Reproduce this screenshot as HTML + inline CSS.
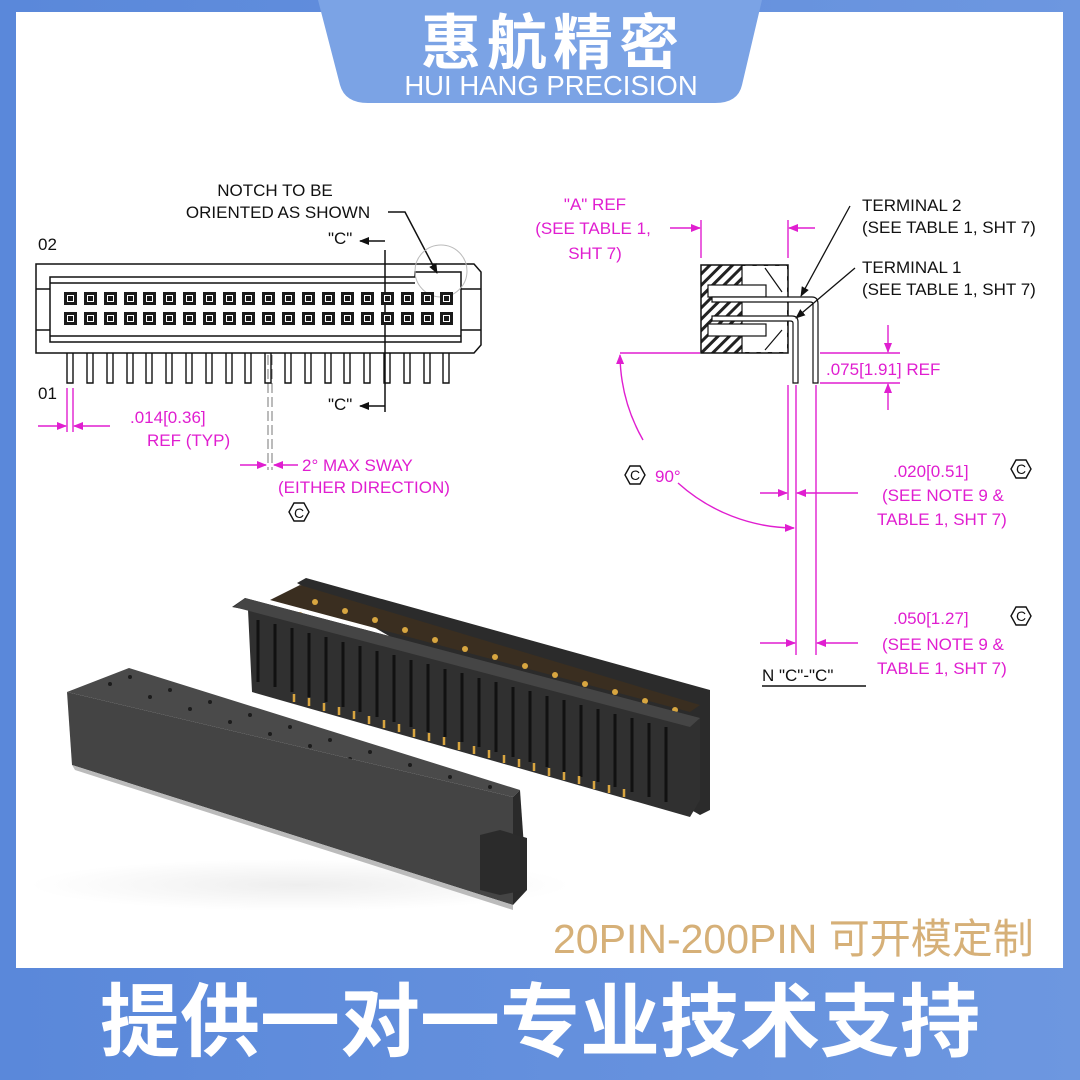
<!DOCTYPE html>
<html><head><meta charset="utf-8"><style>
html,body{margin:0;padding:0;background:#6b95de;}
svg{display:block}
text{font-family:"Liberation Sans","Noto Sans CJK SC",sans-serif}
</style></head><body>
<svg width="1080" height="1080" viewBox="0 0 1080 1080" xmlns="http://www.w3.org/2000/svg">
<defs>
<linearGradient id="bb" x1="0" y1="0" x2="1" y2="0"><stop offset="0" stop-color="#5a88da"/><stop offset="1" stop-color="#6d97e0"/></linearGradient>
<pattern id="hatch" width="8" height="8" patternUnits="userSpaceOnUse" patternTransform="rotate(45)"><rect width="8" height="8" fill="#fff"/><rect width="3" height="8" fill="#222"/></pattern>
<marker id="m" markerWidth="10" markerHeight="8" refX="9" refY="4" orient="auto" markerUnits="userSpaceOnUse"><path d="M0,0 L10,4 L0,8z" fill="#e01ed0"/></marker>
<marker id="k" markerWidth="10" markerHeight="8" refX="9" refY="4" orient="auto" markerUnits="userSpaceOnUse"><path d="M0,0 L10,4 L0,8z" fill="#111"/></marker>
<radialGradient id="sh" cx="0.5" cy="0.5" r="0.5"><stop offset="0" stop-color="#eee"/><stop offset="1" stop-color="#fff"/></radialGradient>
</defs>
<rect width="1080" height="1080" fill="url(#bb)"/>
<rect x="16" y="12" width="1047" height="956" fill="#fff"/>
<!-- header tab -->
<path d="M318,0 L762,0 L742,85 Q738,103 715,103 L368,103 Q345,103 340,85 Z" fill="#7ba3e5"/>
<text x="553" y="64" font-size="60" font-weight="bold" fill="#fff" text-anchor="middle" letter-spacing="6" font-family="Noto Sans CJK SC,sans-serif">惠航精密</text>
<text x="551" y="95" font-size="27.5" fill="#fff" text-anchor="middle">HUI HANG PRECISION</text>

<!-- LEFT DRAWING -->
<g font-size="17" fill="#111">
<text x="275" y="196" text-anchor="middle">NOTCH TO BE</text>
<text x="278" y="218" text-anchor="middle">ORIENTED AS SHOWN</text>
<text x="38" y="250">02</text>
<text x="38" y="399">01</text>
<text x="328" y="244">"C"</text>
<text x="328" y="410">"C"</text>
</g>
<g stroke="#111" fill="none" stroke-width="1.5">
<path d="M388,212 L405,212 L437,273" marker-end="url(#k)"/>
<path d="M385,241 L360,241" marker-end="url(#k)"/>
<path d="M385,406 L360,406" marker-end="url(#k)"/>
<line x1="385" y1="250" x2="385" y2="412"/>
<path d="M36,264 L474,264 L481,272 L481,345 L474,353 L36,353 Z"/>
<path d="M50,277 L415,277 L415,272 L461,272 L461,342 L50,342 Z"/>
<line x1="36" y1="289" x2="50" y2="289"/><line x1="36" y1="330" x2="50" y2="330"/>
<line x1="461" y1="289" x2="481" y2="289"/><line x1="461" y1="330" x2="481" y2="330"/>
<circle cx="441" cy="271" r="26" stroke="#bbb" stroke-width="1"/>
<path d="M268,355 L268,470 M272,355 L272,470" stroke="#777" stroke-dasharray="10,4" stroke-width="1"/>
</g>
<g fill="#1a1a1a">
<rect x="64" y="292" width="13" height="13"/><rect x="84" y="292" width="13" height="13"/><rect x="104" y="292" width="13" height="13"/><rect x="124" y="292" width="13" height="13"/><rect x="143" y="292" width="13" height="13"/><rect x="163" y="292" width="13" height="13"/><rect x="183" y="292" width="13" height="13"/><rect x="203" y="292" width="13" height="13"/><rect x="223" y="292" width="13" height="13"/><rect x="242" y="292" width="13" height="13"/><rect x="262" y="292" width="13" height="13"/><rect x="282" y="292" width="13" height="13"/><rect x="302" y="292" width="13" height="13"/><rect x="322" y="292" width="13" height="13"/><rect x="341" y="292" width="13" height="13"/><rect x="361" y="292" width="13" height="13"/><rect x="381" y="292" width="13" height="13"/><rect x="401" y="292" width="13" height="13"/><rect x="421" y="292" width="13" height="13"/><rect x="440" y="292" width="13" height="13"/>
<rect x="64" y="312" width="13" height="13"/><rect x="84" y="312" width="13" height="13"/><rect x="104" y="312" width="13" height="13"/><rect x="124" y="312" width="13" height="13"/><rect x="143" y="312" width="13" height="13"/><rect x="163" y="312" width="13" height="13"/><rect x="183" y="312" width="13" height="13"/><rect x="203" y="312" width="13" height="13"/><rect x="223" y="312" width="13" height="13"/><rect x="242" y="312" width="13" height="13"/><rect x="262" y="312" width="13" height="13"/><rect x="282" y="312" width="13" height="13"/><rect x="302" y="312" width="13" height="13"/><rect x="322" y="312" width="13" height="13"/><rect x="341" y="312" width="13" height="13"/><rect x="361" y="312" width="13" height="13"/><rect x="381" y="312" width="13" height="13"/><rect x="401" y="312" width="13" height="13"/><rect x="421" y="312" width="13" height="13"/><rect x="440" y="312" width="13" height="13"/>
</g>
<g fill="none" stroke="#fff" stroke-width="1">
<path d="M67.5,295.5h6v6h-6z M87.5,295.5h6v6h-6z M107.5,295.5h6v6h-6z M127.5,295.5h6v6h-6z M146.5,295.5h6v6h-6z M166.5,295.5h6v6h-6z M186.5,295.5h6v6h-6z M206.5,295.5h6v6h-6z M226.5,295.5h6v6h-6z M245.5,295.5h6v6h-6z M265.5,295.5h6v6h-6z M285.5,295.5h6v6h-6z M305.5,295.5h6v6h-6z M325.5,295.5h6v6h-6z M344.5,295.5h6v6h-6z M364.5,295.5h6v6h-6z M384.5,295.5h6v6h-6z M404.5,295.5h6v6h-6z M424.5,295.5h6v6h-6z M443.5,295.5h6v6h-6z"/>
<path d="M67.5,315.5h6v6h-6z M87.5,315.5h6v6h-6z M107.5,315.5h6v6h-6z M127.5,315.5h6v6h-6z M146.5,315.5h6v6h-6z M166.5,315.5h6v6h-6z M186.5,315.5h6v6h-6z M206.5,315.5h6v6h-6z M226.5,315.5h6v6h-6z M245.5,315.5h6v6h-6z M265.5,315.5h6v6h-6z M285.5,315.5h6v6h-6z M305.5,315.5h6v6h-6z M325.5,315.5h6v6h-6z M344.5,315.5h6v6h-6z M364.5,315.5h6v6h-6z M384.5,315.5h6v6h-6z M404.5,315.5h6v6h-6z M424.5,315.5h6v6h-6z M443.5,315.5h6v6h-6z"/>
</g>
<g fill="none" stroke="#111" stroke-width="1.4">
<path d="M67,353 v30 h6 v-30 M87,353 v30 h6 v-30 M107,353 v30 h6 v-30 M127,353 v30 h6 v-30 M146,353 v30 h6 v-30 M166,353 v30 h6 v-30 M186,353 v30 h6 v-30 M206,353 v30 h6 v-30 M226,353 v30 h6 v-30 M245,353 v30 h6 v-30 M265,353 v30 h6 v-30 M285,353 v30 h6 v-30 M305,353 v30 h6 v-30 M325,353 v30 h6 v-30 M344,353 v30 h6 v-30 M364,353 v30 h6 v-30 M384,353 v30 h6 v-30 M404,353 v30 h6 v-30 M424,353 v30 h6 v-30 M443,353 v30 h6 v-30"/>
<path d="M50,283 H415 M50,336 H461"/>
</g>
<!-- left dims -->
<g stroke="#e01ed0" stroke-width="1.4" fill="none">
<line x1="67" y1="388" x2="67" y2="432"/><line x1="73" y1="388" x2="73" y2="432"/>
<path d="M38,426 L66,426" marker-end="url(#m)"/>
<path d="M110,426 L74,426" marker-end="url(#m)"/>
<path d="M240,465 L266,465" marker-end="url(#m)"/>
<path d="M298,465 L274,465" marker-end="url(#m)"/>
</g>
<g font-size="17" fill="#e01ed0">
<text x="130" y="423">.014[0.36]</text>
<text x="147" y="446">REF (TYP)</text>
<text x="302" y="471">2° MAX SWAY</text>
<text x="278" y="493">(EITHER DIRECTION)</text>
</g>
<path d="M289,512 l5,-9 h10 l5,9 l-5,9 h-10 z" fill="none" stroke="#111" stroke-width="1.4"/>
<text x="299" y="518" font-size="14" fill="#111" text-anchor="middle">C</text>

<!-- RIGHT DRAWING -->
<g font-size="17" fill="#e01ed0">
<text x="595" y="210" text-anchor="middle">"A" REF</text>
<text x="593" y="234" text-anchor="middle">(SEE TABLE 1,</text>
<text x="595" y="259" text-anchor="middle">SHT 7)</text>
<text x="826" y="375">.075[1.91] REF</text>
<text x="655" y="482">90°</text>
<text x="893" y="477">.020[0.51]</text>
<text x="882" y="501">(SEE NOTE 9 &amp;</text>
<text x="877" y="525">TABLE 1, SHT 7)</text>
<text x="893" y="624">.050[1.27]</text>
<text x="882" y="650">(SEE NOTE 9 &amp;</text>
<text x="877" y="674">TABLE 1, SHT 7)</text>
</g>
<g font-size="17" fill="#111">
<text x="862" y="211">TERMINAL 2</text>
<text x="862" y="233">(SEE TABLE 1, SHT 7)</text>
<text x="862" y="273">TERMINAL 1</text>
<text x="862" y="295">(SEE TABLE 1, SHT 7)</text>
<text x="762" y="681">N "C"-"C"</text>
</g>
<line x1="762" y1="686" x2="866" y2="686" stroke="#111" stroke-width="1.5"/>
<g fill="none" stroke="#111" stroke-width="1.4">
<path d="M1011,469 l5,-9 h10 l5,9 l-5,9 h-10 z"/>
<path d="M1011,616 l5,-9 h10 l5,9 l-5,9 h-10 z"/>
<path d="M625,475 l5,-9 h10 l5,9 l-5,9 h-10 z"/>
</g>
<g font-size="14" fill="#111" text-anchor="middle"><text x="1021" y="474">C</text><text x="1021" y="621">C</text><text x="635" y="480">C</text></g>
<!-- body -->
<rect x="701" y="265" width="87" height="88" fill="url(#hatch)" stroke="#111" stroke-width="1.5"/>
<rect x="742" y="266" width="45" height="86" fill="#fff"/>
<path d="M742,265 V353 M765,268 L782,292 M765,350 L782,330" stroke="#111" fill="none" stroke-width="1.2"/>
<rect x="708" y="285" width="58" height="12" fill="#fff" stroke="#111" stroke-width="1.2"/>
<rect x="708" y="324" width="58" height="12" fill="#fff" stroke="#111" stroke-width="1.2"/>
<g fill="#fff" stroke="#111" stroke-width="1.2">
<path d="M712,297 H812 Q818,297 818,304 V383 H813 V304 Q813,302 810,302 H712 Z"/>
<path d="M712,316 H792 Q798,316 798,322 V383 H793 V323 Q793,321 790,321 H712 Z"/>
</g>
<g stroke="#111" stroke-width="1.3" fill="none">
<path d="M850,206 L801,296" marker-end="url(#k)"/>
<path d="M855,268 L796,318" marker-end="url(#k)"/>
</g>
<g stroke="#e01ed0" stroke-width="1.4" fill="none">
<line x1="701" y1="220" x2="701" y2="258"/><line x1="788" y1="220" x2="788" y2="258"/>
<path d="M670,228 L700,228" marker-end="url(#m)"/>
<path d="M815,228 L789,228" marker-end="url(#m)"/>
<line x1="620" y1="353" x2="700" y2="353"/>
<line x1="820" y1="353" x2="900" y2="353"/>
<line x1="820" y1="383" x2="900" y2="383"/>
<path d="M888,325 L888,352" marker-end="url(#m)"/>
<path d="M888,410 L888,384" marker-end="url(#m)"/>
<line x1="788" y1="385" x2="788" y2="500"/>
<line x1="796" y1="385" x2="796" y2="655"/>
<line x1="816" y1="385" x2="816" y2="655"/>
<path d="M760,493 L787,493" marker-end="url(#m)"/>
<path d="M858,493 L797,493" marker-end="url(#m)"/>
<path d="M760,643 L795,643" marker-end="url(#m)"/>
<path d="M858,643 L817,643" marker-end="url(#m)"/>
<path d="M643,440 A175,175 0 0 1 620,355" marker-end="url(#m)"/>
<path d="M678,483 A175,175 0 0 0 794,528" marker-end="url(#m)"/>
</g>

<!-- PRODUCT PHOTO -->
<ellipse cx="300" cy="885" rx="270" ry="26" fill="url(#sh)"/>
<path d="M297,583 L306,578 L710,690 L710,810 L700,815 Z" fill="#2b2b2b"/>
<path d="M270,600 L300,585 L700,705 L690,712 Z" fill="#3a2e20"/>
<g fill="#d8a640">
<circle cx="300" cy="615" r="3"/><circle cx="330" cy="625" r="3"/><circle cx="360" cy="635" r="3"/><circle cx="390" cy="645" r="3"/><circle cx="420" cy="655" r="3"/><circle cx="450" cy="663" r="3"/><circle cx="480" cy="671" r="3"/><circle cx="510" cy="680" r="3"/><circle cx="540" cy="688" r="3"/><circle cx="570" cy="697" r="3"/><circle cx="600" cy="706" r="3"/><circle cx="630" cy="715" r="3"/><circle cx="660" cy="723" r="3"/>
<circle cx="315" cy="602" r="3"/><circle cx="345" cy="611" r="3"/><circle cx="375" cy="620" r="3"/><circle cx="405" cy="630" r="3"/><circle cx="435" cy="640" r="3"/><circle cx="465" cy="649" r="3"/><circle cx="495" cy="657" r="3"/><circle cx="525" cy="666" r="3"/><circle cx="555" cy="675" r="3"/><circle cx="585" cy="684" r="3"/><circle cx="615" cy="692" r="3"/><circle cx="645" cy="701" r="3"/><circle cx="675" cy="710" r="3"/>
</g>
<path d="M232,607 L245,598 L700,718 L700,800 L690,817 L252,692 L248,610 Z" fill="#303030"/>
<path d="M245,598 L700,718 L690,727 L234,607 Z" fill="#454545"/>
<g stroke="#111" stroke-width="3">
<path d="M258,620 v62 M275,624 v63 M292,628 v64 M309,633 v64 M326,637 v65 M343,642 v65 M360,646 v66 M377,651 v66 M394,655 v67 M411,660 v67 M428,664 v68 M445,669 v68 M462,673 v69 M479,678 v69 M496,682 v70 M513,687 v70 M530,691 v71 M547,696 v71 M564,700 v72 M581,705 v72 M598,709 v73 M615,714 v73 M632,718 v74 M649,723 v74 M666,727 v75"/>
</g>
<g stroke="#d9a540" stroke-width="2.5">
<path d="M294,694 v8 M309,698 v8 M324,703 v8 M339,707 v8 M354,711 v8 M369,716 v8 M384,720 v8 M399,724 v8 M414,729 v8 M429,733 v8 M444,737 v8 M459,742 v8 M474,746 v8 M489,750 v8 M504,755 v8 M519,759 v8 M534,763 v8 M549,768 v8 M564,772 v8 M579,776 v8 M594,781 v8 M609,785 v8 M624,789 v8"/>
</g>
<path d="M67,692 L129,668 L520,790 L513,797 Z" fill="#4a4a4a"/>
<g fill="#1c1c1c">
<circle cx="110" cy="684" r="2"/><circle cx="150" cy="697" r="2"/><circle cx="190" cy="709" r="2"/><circle cx="230" cy="722" r="2"/><circle cx="270" cy="734" r="2"/><circle cx="310" cy="746" r="2"/><circle cx="350" cy="759" r="2"/><circle cx="390" cy="771" r="2"/><circle cx="430" cy="784" r="2"/><circle cx="470" cy="790" r="2"/>
<circle cx="130" cy="677" r="2"/><circle cx="170" cy="690" r="2"/><circle cx="210" cy="702" r="2"/><circle cx="250" cy="715" r="2"/><circle cx="290" cy="727" r="2"/><circle cx="330" cy="740" r="2"/><circle cx="370" cy="752" r="2"/><circle cx="410" cy="765" r="2"/><circle cx="450" cy="777" r="2"/><circle cx="490" cy="787" r="2"/>
</g>
<path d="M67,692 L513,797 L513,905 L72,765 Z" fill="#444"/>
<path d="M513,797 L520,790 L527,890 L513,905 Z" fill="#2a2a2a"/>
<path d="M480,835 L500,830 L527,838 L527,890 L500,895 L480,890 Z" fill="#2b2b2b"/>
<path d="M72,765 L513,905 L513,910 L75,770 Z" fill="#bbb"/>

<text x="553" y="953" font-size="41" fill="#d6b078" font-family="Liberation Sans,Noto Sans CJK SC,sans-serif">20PIN-200PIN 可开模定制</text>
<text x="540" y="1050" font-size="80" font-weight="bold" fill="#fff" text-anchor="middle" font-family="Noto Sans CJK SC,sans-serif">提供一对一专业技术支持</text>
</svg>
</body></html>
